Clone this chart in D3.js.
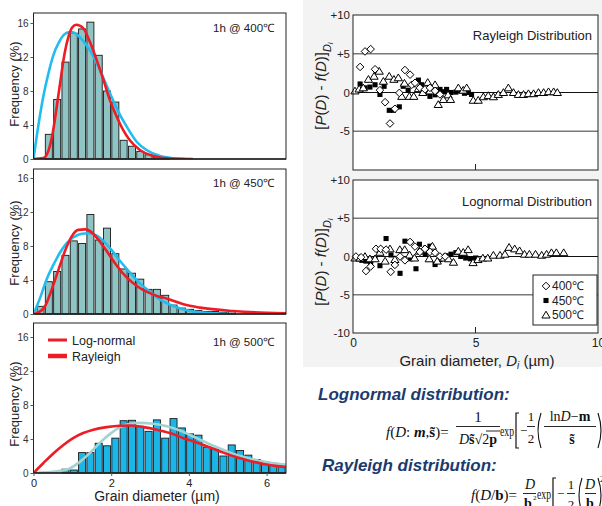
<!DOCTYPE html>
<html>
<head>
<meta charset="utf-8">
<script src="https://cdn.jsdelivr.net/npm/d3@7"></script>
<style>
  body { margin: 0; background: #fff; }
  svg { display: block; font-family: "Liberation Sans", Arial, sans-serif; }
</style>
</head>
<body>
<svg width="602" height="506"></svg>
<script>
'use strict';

// histogram bins (grain diameter, um)
var binOrigin = 0.075;
var binWidth = 0.214;

// frequency (%) per bin, first bin index for each anneal
var freq400 = [2.9, 7.0, 11.4, 14.8, 15.3, 16.1, 12.2, 8.0, 6.7, 2.2, 1.5, 0.9, 0.5, 0.25, 0.1];
var firstBin400 = 1;
var freq450 = [0.9, 3.8, 5.0, 6.9, 8.6, 8.3, 11.7, 8.7, 10.1, 7.1, 5.3, 4.8, 4.1, 2.9, 2.9, 2.2,
    1.05, 0.7, 0.55, 0.4, 0.3, 0.3, 0.2, 0.3];
var firstBin450 = 0;
var freq500 = [0.45, 0.35, 2.4, 2.4, 3.5, 3.2, 4.1, 6.15, 6.2, 5.5, 4.9, 6.25, 4.1, 6.4, 5.3, 4.6,
    4.45, 3.05, 2.8, 2.0, 3.3, 2.65, 2.1, 1.6, 1.35, 1.15, 1.0];
var firstBin500 = 3;

// fitted curves [diameter, frequency]
var lognormFit400 = [[0, 0], [0.25, 0.1], [0.4, 1.2], [0.5, 3.2], [0.6, 6.2], [0.7, 9.4], [0.8, 12.4],
    [0.9, 14.4], [1.0, 15.5], [1.1, 15.8], [1.28, 15.4], [1.45, 13.8], [1.63, 11.6], [1.8, 9.3],
    [1.97, 6.9], [2.14, 5.0], [2.31, 3.4], [2.48, 2.2], [2.74, 1.06], [3.09, 0.35], [3.51, 0.05], [4.1, 0]];
var rayleighFit400 = [[0, 0], [0.12, 3.8], [0.25, 7.3], [0.38, 10.0], [0.51, 12.2], [0.65, 13.7],
    [0.78, 14.6], [0.9, 14.9], [1.02, 14.9], [1.15, 14.5], [1.33, 13.6], [1.5, 12.4], [1.67, 10.9],
    [1.84, 9.1], [2.01, 7.3], [2.18, 5.6], [2.4, 3.8], [2.66, 2.0], [2.91, 1.06], [3.26, 0.35], [3.7, 0.05], [3.9, 0]];
var lognormFit450 = [[0, 0], [0.12, 0.15], [0.3, 0.94], [0.47, 2.9], [0.65, 5.3], [0.81, 7.4], [0.98, 9.1],
    [1.15, 9.9], [1.33, 9.96], [1.5, 9.6], [1.71, 8.5], [1.93, 7.1], [2.14, 5.7], [2.4, 4.3], [2.66, 3.3],
    [2.92, 2.6], [3.2, 2.1], [3.44, 1.8], [3.86, 1.14], [4.29, 0.75], [5.14, 0.35], [6.0, 0.14], [6.5, 0.08]];
var rayleighFit450 = [[0, 0], [0.17, 1.9], [0.34, 4.1], [0.52, 5.85], [0.68, 7.2], [0.85, 8.3], [1.02, 9.0],
    [1.24, 9.45], [1.41, 9.5], [1.64, 9.2], [1.84, 8.4], [2.05, 7.3], [2.27, 6.0], [2.48, 4.9], [2.74, 3.6],
    [3.0, 2.6], [3.26, 1.7], [3.6, 0.94], [4.03, 0.35], [4.55, 0.1], [5.0, 0]];
var rayleighFit500 = [[0, 0], [0.25, 1.15], [0.51, 2.3], [0.77, 3.3], [1.02, 4.1], [1.28, 4.7], [1.54, 5.1],
    [1.88, 5.4], [2.23, 5.56], [2.48, 5.58], [2.83, 5.4], [3.17, 5.1], [3.51, 4.7], [3.86, 4.1], [4.2, 3.6],
    [4.54, 3.0], [4.89, 2.4], [5.23, 1.85], [5.57, 1.42], [5.92, 1.07], [6.39, 0.75], [6.5, 0.7]];
var lognormFit500 = [[0, 0], [0.6, 0.2], [0.94, 0.55], [1.2, 1.34], [1.46, 2.4], [1.72, 3.6], [1.97, 4.6],
    [2.23, 5.4], [2.48, 5.8], [2.74, 5.9], [3.08, 5.8], [3.43, 5.5], [3.77, 5.0], [4.2, 4.1], [4.63, 3.2],
    [5.06, 2.4], [5.49, 1.8], [5.92, 1.34], [6.39, 1.03], [6.5, 0.98]];

var freqTicks = [0, 4, 8, 12, 16];
var diameterTicks = [0, 2, 4, 6];

// deviation plots [diameter, P(D) - f(D)]
var deviationTicks = [10, 5, 0, -5, -10];
var deviationLabels = ['+10', '+5', '0', '-5', '-10'];
var diameterTicksRight = [0, 5, 10];
var tempLabels = ['400℃', '450℃', '500℃'];

var rayleigh400 = [[0.29, 3.3], [0.49, 5.3], [0.72, 5.6], [0.9, 3.0], [1.1, 0.3], [1.31, -1.25], [1.51, -4.0],
    [1.71, -2.1], [1.89, -0.05], [2.12, 2.9], [2.33, 2.3], [2.4, 1.0], [2.53, 1.25], [2.73, 0.6], [2.94, 0.4],
    [3.14, 0.6], [3.35, 0.2], [3.55, -0.25]];
var rayleigh450 = [[0.29, 1.1], [0.49, 0.6], [0.69, 0.7], [0.9, 1.0], [1.1, -0.25], [1.27, 0.8], [1.48, -2.3],
    [1.65, -2.3], [1.89, -1.85], [2.05, 0.8], [2.25, 0.3], [2.45, 1.0], [2.67, 1.6], [2.8, 1.0], [3.0, 0.05],
    [3.14, -0.5], [3.35, -0.3], [3.55, 0.4], [3.7, 0.1], [3.82, 0.4], [4.0, 0.0], [4.2, 0.05], [4.4, 0.2],
    [4.55, -0.1], [4.7, 0.0], [4.84, -0.25]];
var rayleigh500 = [[0.08, 0.2], [0.25, 0.45], [0.42, 0.6], [0.63, 1.7], [0.86, 2.1], [1.07, 2.75], [1.24, 1.45],
    [1.48, 2.1], [1.67, 1.7], [1.85, 1.9], [1.99, -0.5], [2.1, 1.2], [2.3, -0.5], [2.48, -0.5], [2.67, 0.5],
    [2.85, 0.0], [3.05, 1.3], [3.14, 0.2], [3.35, 1.0], [3.48, -1.55], [3.69, -0.9], [3.88, -0.3], [3.98, -0.9],
    [4.3, 0.6], [4.5, 0.3], [4.64, 0.6], [4.91, -1.0], [5.11, -1.0], [5.32, -0.55], [5.52, -0.4], [5.73, -0.55],
    [5.93, -0.25], [6.14, 0.0], [6.34, 0.6], [6.55, 0.0], [6.75, -0.25], [6.96, -0.25], [7.16, -0.15],
    [7.37, -0.15], [7.57, 0.0], [7.78, 0.0], [7.98, 0.1], [8.19, 0.1], [8.34, 0.0]];

var lognormal400 = [[0.12, 0.0], [0.33, -0.1], [0.53, -1.9], [0.72, -1.3], [0.94, 1.0], [1.13, 1.0], [1.35, 0.9],
    [1.54, -2.0], [1.71, -1.1], [1.92, 0.0], [2.12, -0.5], [2.33, 1.9], [2.53, 1.3], [2.73, 0.6], [2.94, 1.0],
    [3.14, 0.6], [3.35, 0.5], [3.55, 0.0], [3.76, 0.0]];
var lognormal450 = [[0.36, -0.5], [0.53, -0.6], [0.72, -1.0], [0.9, -0.3], [1.1, -1.2], [1.35, 2.35], [1.55, 0.2],
    [1.92, -2.2], [2.12, 2.0], [2.35, -0.3], [2.57, -1.6], [2.71, 1.6], [2.95, 0.3], [3.14, 1.35], [3.35, -1.05],
    [3.55, -0.4], [3.8, 0.1], [4.0, 0.3], [4.2, 0.5], [4.4, 0.0], [4.6, -0.2], [4.8, -0.3], [5.0, -0.2]];
var lognormal500 = [[0.08, -0.2], [0.29, -0.2], [0.49, 0.0], [0.69, -0.3], [0.9, -0.3], [1.1, 0.55], [1.31, -0.6],
    [1.51, 1.0], [1.71, -0.4], [1.91, 0.9], [2.11, 0.9], [2.31, 0.2], [2.51, -0.2], [2.71, 0.7], [2.91, 1.0],
    [3.11, -0.3], [3.24, 1.35], [3.44, -0.6], [3.7, -0.2], [3.9, -0.3], [4.1, -0.75], [4.3, 0.7], [4.5, 0.55],
    [4.7, 0.9], [4.9, -0.8], [5.1, -0.4], [5.3, -0.2], [5.5, -0.2], [5.73, 0.17], [6.0, 0.17], [6.2, 0.3],
    [6.37, 1.2], [6.6, 1.0], [6.8, 0.75], [7.0, 0.3], [7.2, 0.3], [7.45, 0.3], [7.7, 0.17], [7.9, 0.3],
    [8.1, 0.5], [8.3, 0.5], [8.6, 0.5]];

function render() {
    var svg = d3.select('svg');
    var red = '#ee1c25';
    var cyan = '#22bdf0';

    // light backdrop behind the deviation plots
    svg.append('rect').attr('x', 303).attr('y', 0).attr('width', 299).attr('height', 367).attr('fill', '#f3f3f3');

    // ---------- histograms ----------
    var xs = d3.scaleLinear().domain([0, 6.5]).range([33.5, 286]);

    var hists = [
        { top: 13, zero: 159, y16: 23, freq: freq400, first: firstBin400, fill: '#8ec4c3',
          curves: [[rayleighFit400, cyan], [lognormFit400, red]], label: '1h @ 400℃', labelY: 32, titleY: 84 },
        { top: 169, zero: 314, y16: 178, freq: freq450, first: firstBin450, fill: '#8ec4c3',
          curves: [[rayleighFit450, cyan], [lognormFit450, red]], label: '1h @ 450℃', labelY: 187, titleY: 243 },
        { top: 323, zero: 473, y16: 337, freq: freq500, first: firstBin500, fill: '#1bb5e8',
          curves: [[lognormFit500, '#a2d3d3'], [rayleighFit500, red]], label: '1h @ 500℃', labelY: 346, titleY: 404 }
    ];

    hists.forEach(function (p, n) {
        var ys = d3.scaleLinear().domain([0, 16]).range([p.zero, p.y16]);
        var g = svg.append('g');
        var clipId = 'clip' + n;
        svg.append('clipPath').attr('id', clipId).append('rect')
            .attr('x', xs(0)).attr('y', p.top).attr('width', xs(6.5) - xs(0)).attr('height', p.zero - p.top);

        g.append('rect').attr('x', xs(0)).attr('y', p.top).attr('width', xs(6.5) - xs(0))
            .attr('height', p.zero - p.top).attr('fill', '#fff');

        var bw = xs(binWidth) - xs(0);
        g.selectAll('.bar').data(p.freq).enter().append('rect')
            .attr('class', 'bar')
            .attr('x', function (d, i) { return xs(binOrigin + (p.first + i) * binWidth) + 0.6; })
            .attr('width', bw - 1.3)
            .attr('y', function (d) { return ys(d); })
            .attr('height', function (d) { return ys(0) - ys(d); })
            .attr('fill', p.fill).attr('stroke', '#1a1a1a').attr('stroke-width', 0.9);

        var line = d3.line()
            .x(function (d) { return xs(d[0]); })
            .y(function (d) { return ys(d[1]); })
            .curve(d3.curveMonotoneX);

        p.curves.forEach(function (c) {
            g.append('path').attr('d', line(c[0])).attr('fill', 'none').attr('stroke', c[1])
                .attr('stroke-width', 2.6).attr('clip-path', 'url(#' + clipId + ')');
        });

        g.append('rect').attr('x', xs(0)).attr('y', p.top).attr('width', xs(6.5) - xs(0))
            .attr('height', p.zero - p.top).attr('fill', 'none').attr('stroke', '#222').attr('stroke-width', 1);
        g.append('line').attr('x1', xs(0)).attr('x2', xs(6.5)).attr('y1', p.zero).attr('y2', p.zero)
            .attr('stroke', '#222').attr('stroke-width', 1.4);

        var yAxis = g.append('g').attr('transform', 'translate(' + xs(0) + ',0)')
            .call(d3.axisLeft(ys).tickValues(freqTicks).tickSize(3).tickPadding(2).tickSizeOuter(0));
        yAxis.select('.domain').remove();
        yAxis.selectAll('text').attr('font-size', 10).attr('fill', '#333')
            .attr('font-family', '"Liberation Sans", Arial, sans-serif');
        yAxis.selectAll('line').attr('stroke', '#555');

        g.append('text').attr('transform', 'translate(19,' + p.titleY + ') rotate(-90)')
            .attr('text-anchor', 'middle').attr('font-size', 13).attr('fill', '#222')
            .text('Frequency (%)');

        g.append('text').attr('x', 213).attr('y', p.labelY).attr('font-size', 11.5).attr('fill', '#222')
            .text(p.label);

        if (n === 2) {
            var xAxis = g.append('g').attr('transform', 'translate(0,' + p.zero + ')')
                .call(d3.axisBottom(xs).tickValues(diameterTicks).tickFormat(d3.format('d'))
                    .tickSize(3).tickPadding(3).tickSizeOuter(0));
            xAxis.select('.domain').remove();
            xAxis.selectAll('text').attr('font-size', 11).attr('fill', '#222')
                .attr('font-family', '"Liberation Sans", Arial, sans-serif');
            xAxis.selectAll('line').attr('stroke', '#555');

            g.append('text').attr('x', 157).attr('y', 501).attr('text-anchor', 'middle')
                .attr('font-size', 14).attr('fill', '#222').text('Grain diameter (µm)');

            // legend
            var leg = [['Log-normal', 3], ['Rayleigh', 4.5]];
            leg.forEach(function (l, i) {
                var ly = 340 + i * 16;
                g.append('line').attr('x1', 48).attr('x2', 67).attr('y1', ly).attr('y2', ly)
                    .attr('stroke', red).attr('stroke-width', l[1]);
                g.append('text').attr('x', 72).attr('y', ly + 4.5).attr('font-size', 12.5)
                    .attr('fill', '#222').text(l[0]);
            });
        }
    });

    // ---------- deviation plots ----------
    var xr = d3.scaleLinear().domain([0, 10]).range([353, 598]);

    var diamond = 'M0,-3.8L3.8,0L0,3.8L-3.8,0Z';
    var triangle = 'M0,-3.8L4.1,3L-4.1,3Z';
    var square = d3.symbol(d3.symbolSquare, 26)();

    var devs = [
        { top: 15, bottom: 170, sets: [rayleigh450, rayleigh500, rayleigh400], title: 'Rayleigh Distribution',
          titleY: 40, labelY: 86, ticks: deviationTicks.slice(0, 4) },
        { top: 180, bottom: 333, sets: [lognormal450, lognormal500, lognormal400], title: 'Lognormal Distribution',
          titleY: 206, labelY: 262, ticks: deviationTicks }
    ];
    var shapes = [square, triangle, diamond];
    var fills = ['#000', '#fff', '#fff'];

    devs.forEach(function (p, n) {
        var yr = d3.scaleLinear().domain([-10, 10]).range([p.bottom, p.top]);
        var g = svg.append('g');

        g.append('rect').attr('x', xr(0)).attr('y', p.top).attr('width', xr(10) - xr(0))
            .attr('height', p.bottom - p.top).attr('fill', '#fff');

        g.selectAll('.grid').data([5, 0, -5]).enter().append('line')
            .attr('x1', xr(0)).attr('x2', xr(10))
            .attr('y1', function (d) { return yr(d); }).attr('y2', function (d) { return yr(d); })
            .attr('stroke', function (d) { return d === 0 ? '#111' : '#7a7a7a'; })
            .attr('stroke-width', function (d) { return d === 0 ? 1 : 1.3; });

        p.sets.forEach(function (set, k) {
            g.selectAll('.pt' + k).data(set).enter().append('path')
                .attr('d', shapes[k])
                .attr('transform', function (d) { return 'translate(' + xr(d[0]) + ',' + yr(d[1]) + ')'; })
                .attr('fill', fills[k]).attr('stroke', '#000').attr('stroke-width', k === 0 ? 0 : 1);
        });

        g.append('rect').attr('x', xr(0)).attr('y', p.top).attr('width', xr(10) - xr(0))
            .attr('height', p.bottom - p.top).attr('fill', 'none').attr('stroke', '#222').attr('stroke-width', 1);

        var yAxis = g.append('g').attr('transform', 'translate(' + xr(0) + ',0)')
            .call(d3.axisLeft(yr).tickValues(p.ticks).tickSize(0).tickPadding(3)
                .tickFormat(function (d) { return deviationLabels[deviationTicks.indexOf(d)]; }));
        yAxis.select('.domain').remove();
        yAxis.selectAll('text').attr('font-size', 11.5).attr('fill', '#222')
            .attr('font-family', '"Liberation Sans", Arial, sans-serif');

        // tick at D = 5 on the lower edge
        g.append('line').attr('x1', xr(5)).attr('x2', xr(5)).attr('y1', p.bottom).attr('y2', p.bottom - 6)
            .attr('stroke', '#222');

        g.append('text').attr('x', 592).attr('y', p.titleY).attr('text-anchor', 'end')
            .attr('font-size', 13).attr('fill', '#222').text(p.title);

        var lab = g.append('text').attr('transform', 'translate(326,' + p.labelY + ') rotate(-90)')
            .attr('text-anchor', 'middle').attr('font-size', 15).attr('fill', '#222');
        lab.append('tspan').text('[');
        lab.append('tspan').attr('font-style', 'italic').text('P');
        lab.append('tspan').text('(');
        lab.append('tspan').attr('font-style', 'italic').text('D');
        lab.append('tspan').text(') - ');
        lab.append('tspan').attr('font-style', 'italic').text('f');
        lab.append('tspan').text('(');
        lab.append('tspan').attr('font-style', 'italic').text('D');
        lab.append('tspan').text(')]');
        lab.append('tspan').attr('font-style', 'italic').attr('font-size', 11).attr('dy', 5).text('D');
        lab.append('tspan').attr('font-style', 'italic').attr('font-size', 8).attr('dy', 2).text('i');

        if (n === 1) {
            var xAxis = g.append('g').attr('transform', 'translate(0,' + p.bottom + ')')
                .call(d3.axisBottom(xr).tickValues(diameterTicksRight).tickSize(0).tickPadding(5));
            xAxis.select('.domain').remove();
            xAxis.selectAll('text').attr('font-size', 12).attr('fill', '#222')
                .attr('font-family', '"Liberation Sans", Arial, sans-serif');

            var xl = g.append('text').attr('x', 477).attr('y', 366).attr('text-anchor', 'middle')
                .attr('font-size', 15).attr('fill', '#222');
            xl.append('tspan').text('Grain diameter, ');
            xl.append('tspan').attr('font-style', 'italic').text('D');
            xl.append('tspan').attr('font-style', 'italic').attr('font-size', 10).attr('dy', 3).text('i');
            xl.append('tspan').attr('dy', -3).text(' (µm)');

            // legend box
            g.append('rect').attr('x', 533).attr('y', 275).attr('width', 64).attr('height', 50)
                .attr('fill', '#fff').attr('stroke', '#222');
            var order = [2, 0, 1];
            tempLabels.forEach(function (t, i) {
                var ly = 286 + i * 14.5;
                var k = order[i];
                g.append('path').attr('d', shapes[k]).attr('transform', 'translate(546,' + ly + ')')
                    .attr('fill', fills[k]).attr('stroke', '#000').attr('stroke-width', k === 0 ? 0 : 1);
                g.append('text').attr('x', 552).attr('y', ly + 4.3).attr('font-size', 12)
                    .attr('fill', '#222').text(t);
            });
        }
    });

    // ---------- equations ----------
    var navy = '#1b3a6d';
    svg.append('text').attr('x', 318).attr('y', 400).attr('font-size', 17).attr('font-weight', 'bold')
        .attr('font-style', 'italic').attr('fill', navy).text('Lognormal distribution:');
    svg.append('text').attr('x', 322).attr('y', 471).attr('font-size', 17).attr('font-weight', 'bold')
        .attr('font-style', 'italic').attr('fill', navy).text('Rayleigh distribution:');

    var eq = svg.append('g').attr('font-family', '"Liberation Serif", "Times New Roman", serif')
        .attr('fill', '#111').attr('font-size', 15);

    function txt(x, y, parts, anchor, size, len) {
        var t = eq.append('text').attr('x', x).attr('y', y).attr('text-anchor', anchor || 'start');
        if (size) t.attr('font-size', size);
        if (len) t.attr('textLength', len).attr('lengthAdjust', 'spacingAndGlyphs');
        parts.forEach(function (s) {
            var sp = t.append('tspan').text(s[0]);
            if (s[1] && s[1].indexOf('i') >= 0) sp.attr('font-style', 'italic');
            if (s[1] && s[1].indexOf('b') >= 0) sp.attr('font-weight', 'bold');
        });
        return t;
    }
    function bar(x1, x2, y) {
        eq.append('line').attr('x1', x1).attr('x2', x2).attr('y1', y).attr('y2', y)
            .attr('stroke', '#111').attr('stroke-width', 0.9);
    }
    // tall brackets and parentheses drawn as strokes
    function bracket(x, y1, y2) {
        var p = d3.path();
        p.moveTo(x + 3, y1); p.lineTo(x, y1); p.lineTo(x, y2); p.lineTo(x + 3, y2);
        eq.append('path').attr('d', p.toString()).attr('fill', 'none').attr('stroke', '#111').attr('stroke-width', 1.2);
    }
    function paren(x, y1, y2, dir) {
        var p = d3.path();
        p.moveTo(x, y1);
        p.quadraticCurveTo(x - dir * 6, (y1 + y2) / 2, x, y2);
        eq.append('path').attr('d', p.toString()).attr('fill', 'none').attr('stroke', '#111').attr('stroke-width', 1.1);
    }

    // lognormal
    txt(386, 437, [['f', 'i'], ['('], ['D', 'i'], [': '], ['m', 'bi'], [','], ['s\u0303', 'b'], [')=']]);
    txt(478, 422, [['1']], 'middle');
    bar(456, 500, 426.5);
    txt(478, 444, [['D', 'i'], ['s\u0303', 'b'], ['\u221A'], ['2'], ['p', 'b']], 'middle', 14);
    bar(486, 500, 431);
    txt(500, 436, [['exp']], 'start', 14, 14);
    bracket(516, 413, 448);
    txt(520, 435, [['\u2212']], 'start', 13);
    txt(531, 421, [['1']], 'middle', 13);
    bar(527, 535, 426.5);
    txt(531, 443, [['2']], 'middle', 13);
    paren(541, 413, 448, 1);
    txt(570, 421, [['ln'], ['D', 'i'], ['\u2212'], ['m', 'b']], 'middle', 14);
    bar(544, 596, 426.5);
    txt(572, 444, [['s\u0303', 'b']], 'middle', 14);
    paren(598, 413, 448, -1);

    // rayleigh
    txt(471, 500, [['f', 'i'], ['('], ['D', 'i'], ['/'], ['b', 'b'], [')=']]);
    txt(530, 489, [['D', 'i']], 'middle', 14);
    bar(523, 536, 493.5);
    txt(528, 508, [['b', 'b']], 'middle', 14);
    txt(533, 500, [['2']], 'start', 7);
    txt(537, 499, [['exp']], 'start', 14, 14);
    bracket(553, 478, 514);
    txt(557, 498, [['\u2212']], 'start', 13);
    txt(571, 489, [['1']], 'middle', 13);
    bar(567, 575, 493.5);
    txt(571, 509, [['2']], 'middle', 13);
    paren(582, 478, 512, 1);
    txt(590, 489, [['D', 'i']], 'middle', 14);
    bar(585, 596, 493.5);
    txt(590, 508, [['b', 'b']], 'middle', 14);
    paren(598, 478, 512, -1);
    txt(600, 482, [['2']], 'start', 8);
}

render();
</script>
</body>
</html>
